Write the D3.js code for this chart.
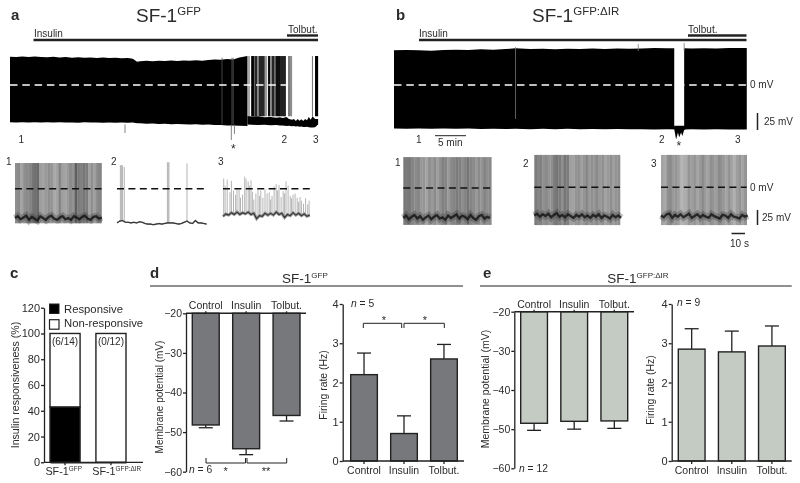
<!DOCTYPE html>
<html>
<head>
<meta charset="utf-8">
<script src="https://cdn.jsdelivr.net/npm/d3@7"></script>
<style>
body { margin: 0; background: #fff; }
text { font-family: "Liberation Sans", Arial, sans-serif; fill: #2b2b2b; }
svg { filter: blur(0.3px); }
</style>
</head>
<body>
<script>
const panel_width = 800;
const panel_height = 483;

// Panel a, long trace (minutes, mV)
const aTime = [0, 1, 2, 3, 4, 5, 6, 7, 8, 9, 10, 11, 12, 13, 14, 15, 16, 17, 18, 19, 19.8, 20.5, 21, 22, 23, 24, 25, 26, 27, 28, 29, 30, 31, 32, 33, 34, 35, 36, 37, 38.3];
const aTop = [41.6, 41, 41.8, 41.2, 41.9, 41.3, 40.8, 41.4, 40.6, 41.1, 40.2, 40.7, 40, 40.6, 39.8, 40.4, 39.6, 40.1, 39.3, 39.6, 38.7, 34.3, 34.8, 35.6, 34.9, 35.8, 35.2, 36.1, 35.4, 36.2, 35.5, 36.4, 35.6, 36.8, 37.4, 37, 38.2, 37.4, 40.3, 42.8];
const aBottom = [-54.9, -55.2, -54.7, -55.1, -54.8, -55.3, -54.9, -55.2, -54.8, -55.1, -55, -55.4, -54.9, -55.3, -55, -55.4, -55.1, -55.5, -55.2, -55.6, -55.3, -56.2, -56.4, -56.9, -56.6, -57.3, -57, -57.6, -57.3, -57.8, -58.1, -57.7, -58.4, -58.2, -59, -58.7, -59.6, -59.4, -60, -60.3];
const aBurstStart = [38.4, 38.9, 39.35, 39.5, 39.85, 40.1, 41.1, 41.6, 42, 42.25, 42.6, 42.9, 43.55, 44.85, 45.15, 48.7, 49.2];
const aBurstEnd = [38.7, 39.35, 39.5, 39.85, 40.1, 41.1, 41.45, 42, 42.25, 42.6, 42.9, 43.55, 44.5, 45.15, 45.5, 48.85, 49.7];
const aBurstShade = [0.35, 1, 0.65, 0.85, 0.5, 0.85, 0.4, 0.95, 0.5, 0.85, 0.65, 0.95, 0.87, 0.55, 0.45, 0.6, 1];
const aBaseTime = [38.3, 39, 40, 41, 42, 43, 43.5, 44, 44.6, 45, 45.5, 45.8, 46.1, 46.4, 46.7, 47, 47.3, 47.6, 47.9, 48.2, 48.5, 48.8, 49.2, 49.7];
const aBaseTop = [-45.6, -46.5, -46, -47.5, -47, -48, -47.5, -48.5, -47, -50, -51, -50, -53, -50, -52.5, -50.5, -53, -50, -52, -47, -51, -46, -50, -50];
const aBaseBottom = [-58, -58.3, -58.8, -58.6, -59.2, -59, -59.6, -59.4, -60.2, -60, -60.6, -60.3, -61, -60.7, -61.3, -61, -61.6, -61.9, -61.5, -62.2, -62.5, -62.5, -62, -58];
const aLineTimes = [34.2, 35.8, 36];
const aDownTimes = [18.55, 35.7, 36.2];
const aDownEnds = [-70.6, -80.9, -72];

// Panel b, long trace
const bTime = [0, 2, 4, 6, 8, 10, 12, 14, 16, 18, 19.6, 22, 24, 26, 28, 30, 32, 34, 36, 38, 40, 42, 44, 46.8, 48, 50, 52, 54, 56.9];
const bTop = [51, 51.6, 51, 50.4, 51.4, 52, 51.6, 52.4, 52, 52.8, 54, 52.8, 53.2, 52.6, 53.4, 53, 53.6, 53, 53.8, 53.2, 53.6, 54.4, 54, 54, 53.6, 54.2, 53.8, 54.4, 54.5];
const bBottom = [-64, -64.4, -63.9, -64.3, -64, -64.5, -64.1, -64.6, -64.3, -64.7, -64.4, -64.9, -64.5, -64.9, -64.5, -65, -64.7, -65.2, -64.8, -65.2, -65, -65.5, -65.2, -65.4, -64.9, -65.3, -65, -65.4, -65.4];
const bGapTime = [45.2, 46.8];
const bDipTime = [45.2, 45.5, 45.8, 46, 46.3, 46.5, 46.8, 47];
const bDipEnd = [-65, -80, -70, -77, -70, -75, -66, -65];
const bUpTimes = [19.6, 39.4, 46.8];
const bUpEnds = [55.9, 60, 61.8];

// Insets: firing density per time bin, resting potential per 2 s
const a1Shade = [0.5, 0.55, 0.3, 0.5, 0.55, 0.6, 0.75, 0.8, 0.85, 0.35, 0.3, 0.4, 0.5, 0.45, 0.25, 0.3, 0.6, 0.35, 0.3, 0.4, 0.55, 0.45, 0.95, 0.7, 0.65, 0.75, 0.7, 0.3, 0.5, 0.35, 0.55, 0.6];
const a1Rest = [-49, -46, -51, -48, -45, -52, -47, -50, -53, -46, -49, -52, -47, -45, -50, -52, -48, -46, -51, -49, -52, -46, -48, -51, -47, -45, -50, -52, -47, -46, -50, -48];
const a2Rest = [-57, -54, -53, -56, -56, -57, -56, -57, -55, -56, -58, -59, -59, -60, -59, -58, -59, -58, -57, -57, -57, -58, -59, -58, -56, -54, -57, -58, -53, -57, -57, -58, -59];
const a2SpikeTimes = [2.4, 2.9, 3.4, 4, 5.2, 36, 36.6, 37.1, 50];
const a2SpikePeaks = [39, 39, 39, 39, 36, 44, 44, 44, 42];
const a3Rest = [-46, -42, -44, -40, -43, -39, -43, -40, -42, -39, -43, -41, -50, -45, -46, -41, -44, -41, -44, -39, -43, -41, -48, -43, -45, -40, -44, -41, -45, -42, -46, -44];
const a3SpikeTimes = [0.5, 1.5, 3, 5, 6, 7.5, 9, 10, 11.5, 12.5, 14, 15.5, 16.5, 18, 19, 20, 21, 22, 23.5, 25, 26, 27, 28.5, 30, 31.5, 33, 34, 35, 36.5, 38, 39, 40, 41.5, 43, 44, 45, 46.5, 48, 49, 50, 51.5, 53, 54, 55, 56, 57.5, 59, 60.5, 61.5];
const a3SpikePeaks = [17, 5, 15, -6, 13, -3, -10, 0, -2, -15, -10, 20, 16, 12, 5, 14, -5, -18, -8, -2, -12, -3, -15, -1, -8, -6, -18, -12, 4, 8, -3, 6, -14, -4, -8, 12, 5, -12, -16, -10, -8, -15, -22, -14, -20, -25, -16, -26, -20];
const b1Shade = [0.72, 0.72, 0.72, 0.6, 0.55, 0.6, 0.4, 0.45, 0.3, 0.5, 0.4, 0.55, 0.35, 0.5, 0.65, 0.6, 0.4, 0.55, 0.6, 0.7, 0.65, 0.5, 0.6, 0.75, 0.6, 0.55, 0.4, 0.55, 0.45, 0.6, 0.5, 0.55];
const b1Rest = [-50, -46, -52, -48, -45, -51, -47, -53, -49, -46, -52, -48, -45, -51, -49, -53, -46, -50, -47, -44, -51, -46, -48, -52, -45, -50, -53, -47, -45, -51, -48, -50];
const b2Shade = [0.7, 0.6, 0.65, 0.5, 0.55, 0.45, 0.5, 0.7, 0.75, 0.7, 0.5, 0.75, 0.7, 0.35, 0.3, 0.45, 0.5, 0.35, 0.45, 0.6, 0.4, 0.5, 0.45, 0.55, 0.4, 0.5, 0.3, 0.4, 0.5, 0.35, 0.45, 0.5];
const b2Rest = [-47, -44, -49, -45, -48, -44, -50, -46, -43, -49, -46, -50, -45, -48, -51, -46, -49, -45, -50, -47, -51, -46, -49, -45, -51, -47, -49, -52, -46, -50, -47, -51];
const b3Shade = [0.3, 0.25, 0.5, 0.55, 0.4, 0.45, 0.35, 0.15, 0.2, 0.25, 0.45, 0.35, 0.45, 0.3, 0.4, 0.55, 0.4, 0.3, 0.5, 0.45, 0.35, 0.55, 0.5, 0.4, 0.3, 0.45, 0.3, 0.2, 0.35, 0.45, 0.3, 0.45];
const b3Rest = [-47, -50, -45, -44, -51, -46, -49, -45, -50, -47, -44, -51, -48, -45, -50, -46, -49, -51, -45, -48, -50, -52, -46, -47, -51, -45, -49, -50, -52, -46, -49, -47];

// Panels c, d, e
const genotypeLabels = ["GFP", "GFP:ΔIR"];
const responsiveKeys = ["Responsive", "Non-responsive"];
const responsiveValues = [43, 0];
const nonResponsiveValues = [57, 100];
const responsiveCounts = ["(6/14)", "(0/12)"];
const percentTicks = [0, 20, 40, 60, 80, 100, 120];

const drugLabels = ["Control", "Insulin", "Tolbut."];
const potentialTicks = [-20, -30, -40, -50, -60];
const rateTicks = [0, 1, 2, 3, 4];
const dPotential = [-48.2, -54.2, -45.8];
const dPotentialErr = [-48.9, -55.7, -47.2];
const dRate = [2.2, 0.7, 2.6];
const dRateErr = [2.75, 1.15, 2.97];
const ePotential = [-48.5, -48, -47.9];
const ePotentialErr = [-50.3, -50, -49.8];
const eRate = [2.85, 2.78, 2.93];
const eRateErr = [3.37, 3.31, 3.44];

const ink = "#222";
const font_small = 10;

const svg = d3.select("body")
    .append("svg")
    .attr("width", panel_width)
    .attr("height", panel_height);

const defs = svg.append("defs");
defs.append("filter").attr("id", "soft")
    .append("feGaussianBlur").attr("stdDeviation", 0.4);

function label(x, y, str, size, opts = {}) {
    return svg.append("text")
        .attr("x", x)
        .attr("y", y)
        .attr("font-size", size)
        .attr("text-anchor", opts.anchor || "start")
        .attr("font-weight", opts.bold ? "bold" : "normal")
        .text(str);
}

function sfLabel(x, y, size, supSize, sup, anchor) {
    const t = svg.append("text")
        .attr("x", x)
        .attr("y", y)
        .attr("font-size", size)
        .attr("text-anchor", anchor || "start");
    t.append("tspan").text("SF-1");
    t.append("tspan")
        .attr("font-size", supSize)
        .attr("dy", -size * 0.36)
        .text(sup);
}

function hline(x1, x2, y, w) {
    svg.append("line")
        .attr("x1", x1).attr("x2", x2)
        .attr("y1", y).attr("y2", y)
        .attr("stroke", ink)
        .attr("stroke-width", w);
}

function vline(x, y1, y2, w) {
    svg.append("line")
        .attr("x1", x).attr("x2", x)
        .attr("y1", y1).attr("y2", y2)
        .attr("stroke", ink)
        .attr("stroke-width", w);
}

function rotated(x, y, str, size) {
    svg.append("text")
        .attr("transform", `translate(${x},${y}) rotate(-90)`)
        .attr("font-size", size)
        .attr("text-anchor", "middle")
        .text(str);
}

// ---- long traces ----
const pxPerMinute = 6.2;
const mvScale = d3.scaleLinear().domain([0, 25]).range([85, 68]);

function envelope(g, x, time, top, bottom) {
    const area = d3.area()
        .x((d, i) => x(time[i]))
        .y0((d, i) => mvScale(bottom[i]))
        .y1((d, i) => mvScale(top[i]));
    g.append("path")
        .datum(time)
        .attr("d", area)
        .attr("fill", "#000");
}

function thinLines(g, x, times, froms, tos, color) {
    g.selectAll(null)
        .data(times)
        .join("line")
        .attr("x1", d => x(d)).attr("x2", d => x(d))
        .attr("y1", (d, i) => mvScale(froms[i]))
        .attr("y2", (d, i) => mvScale(tos[i]))
        .attr("stroke", color)
        .attr("stroke-width", 0.8);
}

const xA = d3.scaleLinear().domain([0, 308 / pxPerMinute]).range([10, 318]);
const traceA = svg.append("g");
envelope(traceA, xA, aTime, aTop, aBottom);
const shade = d3.scaleLinear().domain([0, 1]).range(["#fff", "#000"]);
traceA.selectAll(null)
    .data(aBurstStart)
    .join("rect")
    .attr("x", d => xA(d))
    .attr("width", (d, i) => xA(aBurstEnd[i]) - xA(d))
    .attr("y", mvScale(42.6))
    .attr("height", mvScale(-46) - mvScale(42.6))
    .attr("fill", (d, i) => shade(aBurstShade[i]));
envelope(traceA, xA, aBaseTime, aBaseTop, aBaseBottom);
thinLines(traceA, xA, aLineTimes, aLineTimes.map(() => 40), aLineTimes.map(() => -58), "#555");
thinLines(traceA, xA, aDownTimes, aDownTimes.map(() => -58), aDownEnds, "#666");
traceA.append("line")
    .attr("x1", 10).attr("x2", xA(45.5))
    .attr("y1", mvScale(0)).attr("y2", mvScale(0))
    .attr("stroke", "#fff")
    .attr("stroke-width", 1.5)
    .attr("stroke-dasharray", "7.5 4.8");

const xB = d3.scaleLinear().domain([0, 352.5 / pxPerMinute]).range([394, 746.5]);
const traceB = svg.append("g");
envelope(traceB, xB, bTime, bTop, bBottom);
traceB.append("rect")
    .attr("x", xB(bGapTime[0]))
    .attr("width", xB(bGapTime[1]) - xB(bGapTime[0]))
    .attr("y", mvScale(70))
    .attr("height", mvScale(-61.5) - mvScale(70))
    .attr("fill", "#fff");
traceB.append("path")
    .datum(bDipTime)
    .attr("d", d3.area()
        .x(d => xB(d))
        .y0((d, i) => mvScale(bDipEnd[i]))
        .y1(mvScale(-60)))
    .attr("fill", "#000");
traceB.append("line")
    .attr("x1", 394).attr("x2", 746.5)
    .attr("y1", mvScale(0)).attr("y2", mvScale(0))
    .attr("stroke", "#fff")
    .attr("stroke-width", 1.5)
    .attr("stroke-dasharray", "7.5 4.8");
thinLines(traceB, xB, bUpTimes, [-50, 50, 50], bUpEnds, "#777");

// ---- insets ----
const mvPerPx = 0.6;

function inset(opts) {
    const g = svg.append("g").attr("filter", "url(#soft)");
    const x = d3.scaleLinear().domain([0, (opts.x1 - opts.x0) / 1.4]).range([opts.x0, opts.x1]);
    const y = d3.scaleLinear().domain([0, 50]).range([opts.zero, opts.zero - 50 * mvPerPx]);
    const restLine = d3.line().x((d, i) => x(i * 2)).y(d => y(d));

    if (opts.shade) {
        const binShade = d3.scaleLinear().domain([0, 1]).range(["#c2c2c2", "#5c5c5c"]);
        const bins = d3.scaleBand().domain(d3.range(opts.shade.length)).range([opts.x0, opts.x1]);
        g.selectAll(null)
            .data(opts.shade)
            .join("rect")
            .attr("x", (d, i) => bins(i))
            .attr("width", bins.bandwidth() + 0.3)
            .attr("y", y(opts.peak))
            .attr("height", y(opts.trough) - y(opts.peak))
            .attr("fill", d => binShade(d));
        g.append("path").datum(opts.rest)
            .attr("d", restLine)
            .attr("fill", "none")
            .attr("stroke", "#333")
            .attr("stroke-opacity", 0.3)
            .attr("stroke-width", 7);
        g.append("path").datum(opts.rest)
            .attr("d", restLine)
            .attr("fill", "none")
            .attr("stroke", "#111")
            .attr("stroke-opacity", 0.8)
            .attr("stroke-width", 2.4);
    } else {
        g.selectAll(null)
            .data(opts.spikes)
            .join("line")
            .attr("x1", d => x(d)).attr("x2", d => x(d))
            .attr("y1", d => y(opts.rest[Math.round(d / 2)]))
            .attr("y2", (d, i) => y(opts.peaks[i]))
            .attr("stroke", "#b4b4b4")
            .attr("stroke-width", 1);
        g.append("path").datum(opts.rest)
            .attr("d", restLine)
            .attr("fill", "none")
            .attr("stroke", "#999")
            .attr("stroke-width", opts.band);
        g.append("path").datum(opts.rest)
            .attr("d", restLine)
            .attr("fill", "none")
            .attr("stroke", "#333")
            .attr("stroke-width", 1.1);
    }

    svg.append("line")
        .attr("x1", opts.x0).attr("x2", opts.x1)
        .attr("y1", opts.zero).attr("y2", opts.zero)
        .attr("stroke", "#111")
        .attr("stroke-width", 1.6)
        .attr("stroke-dasharray", "7 4.4");
}

inset({ x0: 15, x1: 101.5, zero: 188.7, peak: 42.8, trough: -57.7, shade: a1Shade, rest: a1Rest });
inset({ x0: 117, x1: 206.5, zero: 188.7, spikes: a2SpikeTimes, peaks: a2SpikePeaks, rest: a2Rest, band: 1.5 });
inset({ x0: 223, x1: 310, zero: 188.7, spikes: a3SpikeTimes, peaks: a3SpikePeaks, rest: a3Rest, band: 3 });
inset({ x0: 403.3, x1: 491.3, zero: 188, peak: 51.5, trough: -61.5, shade: b1Shade, rest: b1Rest });
inset({ x0: 534.3, x1: 620, zero: 187.3, peak: 54, trough: -63, shade: b2Shade, rest: b2Rest });
inset({ x0: 661, x1: 746.7, zero: 187.3, peak: 54, trough: -63, shade: b3Shade, rest: b3Rest });

// ---- headers for a, b ----
label(11, 20, "a", 15, { bold: true });
label(396, 20, "b", 15, { bold: true });
label(10, 278, "c", 15, { bold: true });
label(150, 278, "d", 15, { bold: true });
label(483, 278, "e", 15, { bold: true });

sfLabel(136, 22, 19, 11.5, "GFP");
sfLabel(532, 22, 19, 11.5, "GFP:ΔIR");

label(34, 37, "Insulin", font_small);
label(288, 33, "Tolbut.", font_small);
hline(33.5, 318, 40, 2.4);
hline(287, 318, 35.5, 2.4);
label(419, 37, "Insulin", font_small);
label(688, 33, "Tolbut.", font_small);
hline(419, 746.5, 40, 2.4);
hline(688, 746.5, 35.5, 2.4);

[[18.5, "1"], [281.5, "2"], [313, "3"], [416, "1"], [659, "2"], [735, "3"]].forEach(d => label(d[0], 143, d[1], font_small));
label(231, 153, "*", 12);
label(676.5, 149.5, "*", 12);
hline(435, 466, 135.7, 1);
label(438, 146, "5 min", font_small);
label(750, 88, "0 mV", font_small);
vline(757.5, 113, 130, 1.5);
label(764, 125, "25 mV", font_small);

[[6, 165, "1"], [111, 165, "2"], [218, 165, "3"], [395, 166, "1"], [523, 166.7, "2"], [651, 166.7, "3"]].forEach(d => label(d[0], d[1], d[2], font_small));
label(750, 190.5, "0 mV", font_small);
vline(757.5, 210, 225, 1.5);
label(762, 221, "25 mV", font_small);
hline(731.5, 745, 233.5, 1.5);
label(730, 247, "10 s", font_small);

// ---- axis styling ----
function styleAxis(sel, size) {
    sel.selectAll("line").attr("stroke", ink).attr("stroke-width", 1.3);
    sel.selectAll("path").attr("stroke", ink).attr("stroke-width", 1.3);
    sel.selectAll("text").attr("font-size", size).attr("fill", "#2b2b2b").style("font-family", '"Liberation Sans", Arial, sans-serif');
}

// ---- panel c ----
const xC = d3.scaleBand().domain(genotypeLabels).range([50, 126]).paddingInner(0.345);
const yC = d3.scaleLinear().domain([0, 120]).range([462.3, 307.7]);

const stackRows = genotypeLabels.map((g, i) => ({
    genotype: g,
    Responsive: responsiveValues[i],
    "Non-responsive": nonResponsiveValues[i]
}));
const stacked = d3.stack().keys(responsiveKeys)(stackRows);

stacked.forEach((layer, k) => {
    svg.append("g")
        .selectAll("rect")
        .data(layer)
        .join("rect")
        .attr("x", d => xC(d.data.genotype))
        .attr("width", xC.bandwidth())
        .attr("y", d => yC(d[1]))
        .attr("height", d => yC(d[0]) - yC(d[1]))
        .attr("fill", k === 0 ? "#000" : "#fff")
        .attr("stroke", ink)
        .attr("stroke-width", 1.4);
});

const axisCLeft = svg.append("g")
    .attr("transform", "translate(44,0)")
    .call(d3.axisLeft(yC).tickValues(percentTicks).tickSize(3).tickPadding(1).tickSizeOuter(0));
styleAxis(axisCLeft, 11);

const axisCBottom = svg.append("g")
    .attr("transform", "translate(0,462.3)")
    .call(d3.axisBottom(xC).tickSize(3).tickSizeOuter(0).tickFormat(""));
styleAxis(axisCBottom, 10);
hline(44, 143, 462.3, 1.3);

sfLabel(63.7, 475, 10.8, 6.4, genotypeLabels[0], "middle");
sfLabel(116.7, 475, 10.8, 6.4, genotypeLabels[1], "middle");

responsiveCounts.forEach((c, i) => {
    label(xC(genotypeLabels[i]) + xC.bandwidth() / 2, 345, c, font_small, { anchor: "middle" });
});

svg.append("rect").attr("x", 49.5).attr("y", 304).attr("width", 9.5).attr("height", 9.5).attr("fill", "#000").attr("stroke", ink);
svg.append("rect").attr("x", 49.5).attr("y", 319.7).attr("width", 9.5).attr("height", 9.5).attr("fill", "#fff").attr("stroke", ink).attr("stroke-width", 1.2);
label(64, 312.5, responsiveKeys[0], 11.3);
label(64, 326.5, responsiveKeys[1], 11.3);
rotated(18.5, 385, "Insulin responsiveness (%)", 10.6);

// ---- bar panels for d, e ----
function barPanel(opts) {
    const x = d3.scaleBand().domain(drugLabels).range(opts.bars).paddingInner(1 / 3);
    const y = d3.scaleLinear().domain(opts.domain).range(opts.yRange);
    const yBase = y(opts.domain[0]);
    const g = svg.append("g");

    g.selectAll(".err")
        .data(opts.errs)
        .join("line")
        .attr("x1", (d, i) => x(drugLabels[i]) + x.bandwidth() / 2)
        .attr("x2", (d, i) => x(drugLabels[i]) + x.bandwidth() / 2)
        .attr("y1", (d, i) => y(opts.values[i]))
        .attr("y2", d => y(d))
        .attr("stroke", ink)
        .attr("stroke-width", 1.3);

    g.selectAll(".cap")
        .data(opts.errs)
        .join("line")
        .attr("x1", (d, i) => x(drugLabels[i]) + x.bandwidth() / 2 - 7)
        .attr("x2", (d, i) => x(drugLabels[i]) + x.bandwidth() / 2 + 7)
        .attr("y1", d => y(d))
        .attr("y2", d => y(d))
        .attr("stroke", ink)
        .attr("stroke-width", 1.3);

    g.selectAll("rect")
        .data(opts.values)
        .join("rect")
        .attr("x", (d, i) => x(drugLabels[i]))
        .attr("width", x.bandwidth())
        .attr("y", d => Math.min(y(d), yBase))
        .attr("height", d => Math.abs(y(d) - yBase))
        .attr("fill", opts.fill)
        .attr("stroke", ink)
        .attr("stroke-width", 1.4);

    const axisY = svg.append("g")
        .attr("transform", `translate(${opts.axisX},0)`)
        .call(d3.axisLeft(y).tickValues(opts.ticks).tickSize(3).tickPadding(1).tickSizeOuter(0).tickFormat(d3.format("d")));
    styleAxis(axisY, opts.tickSize);

    const catAxis = opts.labelsOnTop ? d3.axisTop(x).tickSize(2).tickPadding(2)
        : d3.axisBottom(x).tickSize(3).tickPadding(2.5);
    const axisX = svg.append("g")
        .attr("transform", `translate(0,${yBase})`)
        .call(catAxis.tickSizeOuter(0));
    styleAxis(axisX, 10.5);
    axisX.select(".domain").remove();
    hline(opts.axisX, opts.axisEnd, yBase, 1.4);
}

const dFill = "#77787b";
const eFill = "#c4cbc3";

barPanel({ bars: [192.3, 300], domain: [-20, -60], yRange: [313.3, 471.7], ticks: potentialTicks, values: dPotential, errs: dPotentialErr, fill: dFill, axisX: 186, axisEnd: 306, labelsOnTop: true, tickSize: 10.5 });
barPanel({ bars: [350.7, 457.3], domain: [0, 4], yRange: [461, 304], ticks: rateTicks, values: dRate, errs: dRateErr, fill: dFill, axisX: 342.7, axisEnd: 464, labelsOnTop: false, tickSize: 11 });
barPanel({ bars: [520.7, 627.7], domain: [-20, -60], yRange: [311.7, 468.3], ticks: potentialTicks, values: ePotential, errs: ePotentialErr, fill: eFill, axisX: 514.3, axisEnd: 634, labelsOnTop: true, tickSize: 10.5 });
barPanel({ bars: [678.3, 785.3], domain: [0, 4], yRange: [461, 304], ticks: rateTicks, values: eRate, errs: eRateErr, fill: eFill, axisX: 671.7, axisEnd: 791.7, labelsOnTop: false, tickSize: 11 });

hline(150, 463, 286, 1.1);
hline(480, 791.7, 286, 1.1);
sfLabel(282, 283, 13.5, 8, "GFP");
sfLabel(607.3, 283, 13.5, 8, "GFP:ΔIR");

rotated(163, 397, "Membrane potential (mV)", 10);
rotated(327, 385, "Firing rate (Hz)", 10.4);
rotated(489, 389, "Membrane potential (mV)", 10.5);
rotated(654, 390, "Firing rate (Hz)", 10.4);

function nLabel(x, y, value) {
    const t = svg.append("text").attr("x", x).attr("y", y).attr("font-size", 10.3);
    t.append("tspan").attr("font-style", "italic").text("n");
    t.append("tspan").text(` = ${value}`);
}
nLabel(189, 473, 6);
nLabel(351, 306.7, 5);
nLabel(519, 471.7, 12);
nLabel(677, 305.7, 9);

function bracket(x1, x2, yEnd, yBar) {
    svg.append("path")
        .attr("d", d3.line()([[x1, yEnd], [x1, yBar], [x2, yBar], [x2, yEnd]]))
        .attr("fill", "none")
        .attr("stroke", ink)
        .attr("stroke-width", 1);
}
bracket(206, 245.5, 458, 463);
bracket(247, 286.7, 458, 463);
bracket(363.3, 401.7, 328, 323.3);
bracket(404, 444.3, 328, 323.3);
label(225.7, 474.5, "*", 11, { anchor: "middle" });
label(266, 474.5, "**", 11, { anchor: "middle" });
label(384, 323.5, "*", 11, { anchor: "middle" });
label(425, 323.5, "*", 11, { anchor: "middle" });
</script>
</body>
</html>
